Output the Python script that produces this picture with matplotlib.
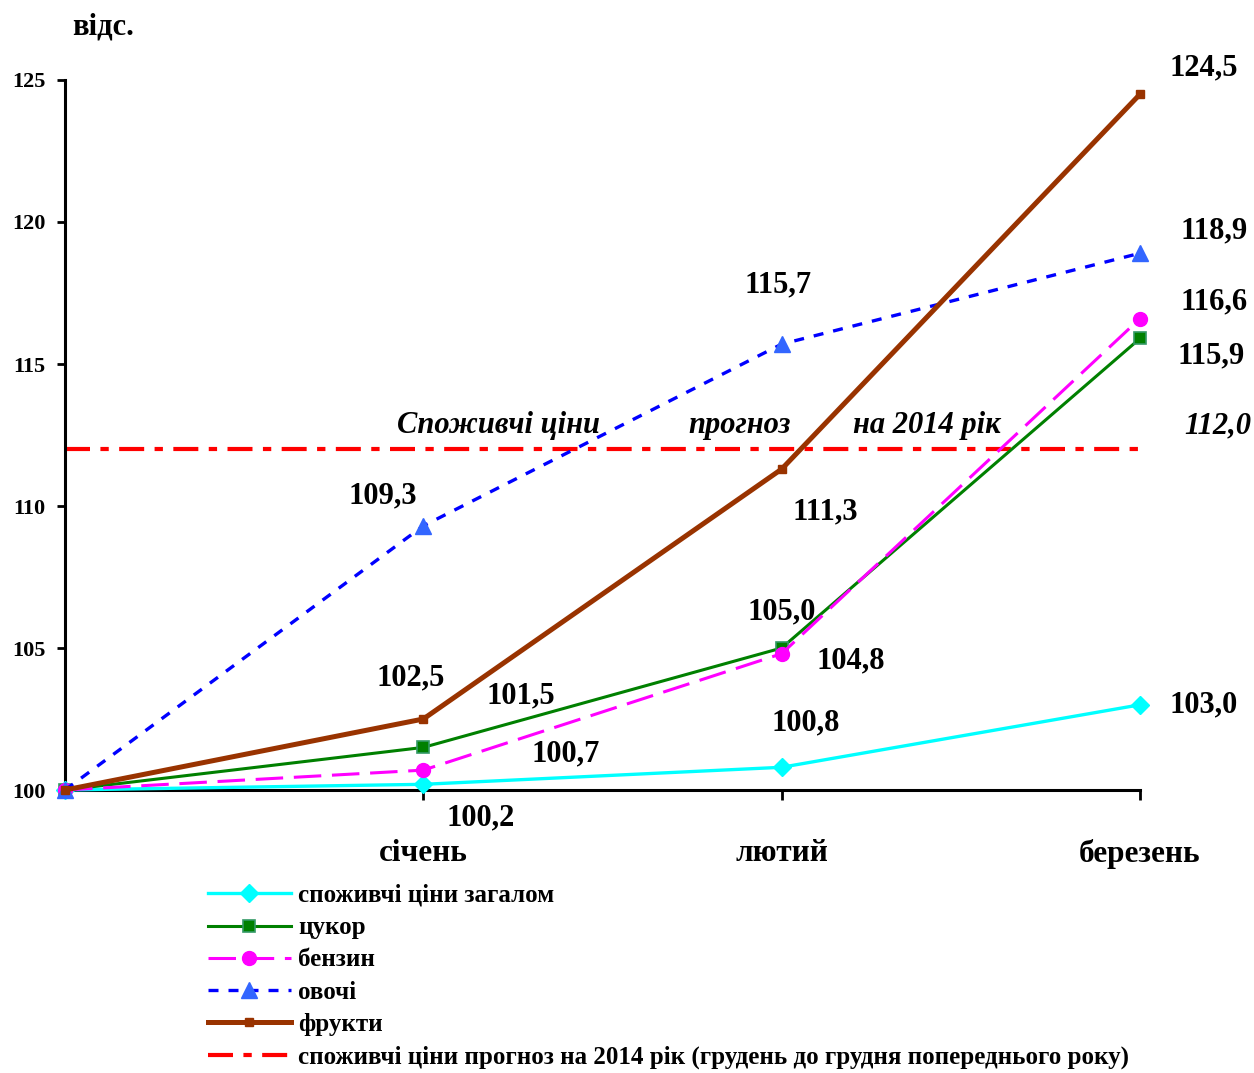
import matplotlib
matplotlib.use("Agg")
import matplotlib.pyplot as plt

plt.rcParams['font.family'] = ['Liberation Serif', 'DejaVu Serif']
plt.rcParams['font.weight'] = 'bold'

months = ["", "січень", "лютий", "березень"]
cpi = [100.0, 100.2, 100.8, 103.0]
sugar = [100.0, 101.5, 105.0, 115.9]
petrol = [100.0, 100.7, 104.8, 116.6]
vegetables = [100.0, 109.3, 115.7, 118.9]
fruits = [100.0, 102.5, 111.3, 124.5]
forecast = 112.0

names = ["споживчі ціни загалом", "цукор", "бензин", "овочі", "фрукти",
         "споживчі ціни прогноз на 2014 рік (грудень до грудня попереднього року)"]

# label offsets in pixels from each point (skip the first point)
off_cpi = [(57, -34), (24, 44), (64, 0)]
off_sugar = [(97, 51), (0, 36), (71, -17)]
off_petrol = [(142, 16), (69, -7), (74, 17)]
off_veg = [(-41, 30), (-4, 59), (74, 22)]
off_fruit = [(-13, 41), (44, -43), (64, 26)]

x = list(range(len(months)))

fig = plt.figure(figsize=(12.54, 10.73), dpi=100)
ax = fig.add_axes([65/1254, 283/1073, (1140-65)/1254, 710/1073])

ax.plot(x, cpi, color='#00FFFF', lw=2.4, marker='D', ms=9, mfc='#00FFFF', mec='#00FFFF', zorder=3, label=names[0])
ax.plot(x, sugar, color='#008000', lw=2.2, marker='s', ms=9, mfc='#008000', mec='#339966', mew=1.2, zorder=3, label=names[1])
ax.plot(x, petrol, color='#FF00FF', lw=2.2, ls=(0, (9, 3.5)), marker='o', ms=10, mfc='#FF00FF', mec='#FF00FF', zorder=3, label=names[2])
ax.plot(x, vegetables, color='#0000FF', lw=2.4, ls=(0, (3, 3)), marker='^', ms=12, mfc='#3366FF', mec='#3366FF', zorder=3, label=names[3])
ax.plot(x, fruits, color='#993300', lw=3.6, marker='s', ms=6, mfc='#993300', mec='#993300', zorder=3, label=names[4])
ax.plot([x[0], x[-1]], [forecast, forecast], color='#FF0000', lw=3, ls=(0, (6, 2.5, 2, 2.5)), zorder=2, label=names[5])

for series, offs in [(cpi, off_cpi), (sugar, off_sugar), (petrol, off_petrol),
                     (vegetables, off_veg), (fruits, off_fruit)]:
    for i in range(1, len(series)):
        ax.annotate(f"{series[i]:.1f}".replace('.', ','), (x[i], series[i]),
                    xytext=offs[i-1], textcoords='offset pixels',
                    ha='center', va='center', fontsize=22, fontweight='bold')

ty = forecast + 0.82
ax.text(3.218, ty, f"{forecast:.1f}".replace('.', ','), ha='center', va='center',
        fontsize=22, fontweight='bold', style='italic')
ax.text(1.21, ty, "Споживчі ціни", ha='center', va='center', fontsize=22, fontweight='bold', style='italic')
ax.text(1.883, ty, "прогноз", ha='center', va='center', fontsize=22, fontweight='bold', style='italic')
ax.text(2.405, ty, "на 2014 рік", ha='center', va='center', fontsize=22, fontweight='bold', style='italic')

ax.set_xlim(0, 3)
ax.set_ylim(100, 125)
ax.set_yticks([100, 105, 110, 115, 120, 125])
ax.set_xticks(x[1:])
ax.set_xticklabels(months[1:], fontsize=22.5, fontweight='bold')
ax.tick_params(axis='x', length=7, width=2, pad=28, direction='out')
ax.tick_params(axis='y', length=6, width=2, pad=8, labelsize=16)
for s in ['top', 'right']:
    ax.spines[s].set_visible(False)
for s in ['left', 'bottom']:
    ax.spines[s].set_linewidth(2.2)
for ln in ax.lines:
    ln.set_clip_on(False)

fig.text(72/1254, 1 - 27/1073, "відс.", ha='left', va='center', fontsize=22, fontweight='bold')

fig.legend(loc='upper left', bbox_to_anchor=(208/1254, 1 - 884/1073), frameon=False,
           fontsize=18, handlelength=3.3, handletextpad=0.3, labelspacing=0.37,
           borderpad=0, borderaxespad=0)

fig.savefig("out.png", dpi=100)
